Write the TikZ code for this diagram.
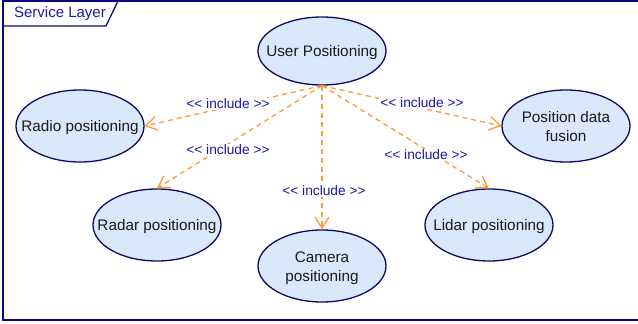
\documentclass[tikz,border=0pt]{standalone}
\usepackage{fontspec}
\setmainfont{Liberation Sans}[Ligatures=TeXOff]
\usetikzlibrary{shapes.geometric,arrows.meta}
\definecolor{navy}{HTML}{0A0A80}
\definecolor{ucfill}{HTML}{DAE8FC}
\definecolor{ucline}{HTML}{0A0A66}
\definecolor{inclc}{HTML}{FF9933}
\definecolor{lblc}{HTML}{1A1AA6}
\definecolor{txt}{HTML}{1A1A1A}
\newcommand\uctext[1]{\makebox[0pt]{\raisebox{-2pt}[\height][\depth]{\begin{tabular}{@{}c@{}}#1\end{tabular}}}}
\tikzset{
  usecase/.style={ellipse, draw=ucline, fill=ucfill, line width=1.3pt,
    minimum width=128pt, minimum height=72pt, inner sep=0pt,
    text=txt, font=\fontsize{15.3}{19.5}\selectfont},
  incl/.style={draw=inclc, line width=1.3pt, dash pattern=on 5pt off 4pt,
    -{Straight Barb[length=11pt,width=14pt]}},
  incllbl/.style={fill=white, text=lblc, inner sep=1pt,
    font=\fontsize{13.75}{16}\selectfont},
}
\begin{document}
\begin{tikzpicture}[x=1pt,y=-1pt]
\useasboundingbox (0,0) rectangle (638,324);
% frame
\draw[navy, line width=1.3pt] (642,1) -- (3,1) -- (3,320) -- (642,320);
\draw[navy, line width=1.3pt] (3,26) -- (106,26) -- (118,1);
\node[text=lblc, font=\fontsize{15}{18}\selectfont, anchor=center] (title) at (60,14) {Service Layer};
% use cases
\node[usecase, minimum height=68pt] (user) at (322,51) {\uctext{User Positioning}};
\node[usecase] (radio) at (80,126) {\uctext{Radio positioning}};
\node[usecase] (radar) at (157,225) {\uctext{Radar positioning}};
\node[usecase] (camera) at (322,266) {\uctext{Camera\\positioning}};
\node[usecase] (lidar) at (489,225) {\uctext{Lidar positioning}};
\node[usecase] (fusion) at (566,126) {\uctext{Position data\\fusion}};
% include relations
\draw[incl] (user.south) -- (radio.east);
\draw[incl] (user.south) -- (radar.north);
\draw[incl] (user.south) -- (camera.north);
\draw[incl] (user.south) -- (lidar.north);
\draw[incl] (user.south) -- (fusion.west);
\node[incllbl] (l1) at (228,104) {<< include >>};
\node[incllbl] (l2) at (228,150) {<< include >>};
\node[incllbl] (l3) at (324,191) {<< include >>};
\node[incllbl] (l4) at (422,103) {<< include >>};
\node[incllbl] (l5) at (426,155) {<< include >>};
\end{tikzpicture}
\end{document}
